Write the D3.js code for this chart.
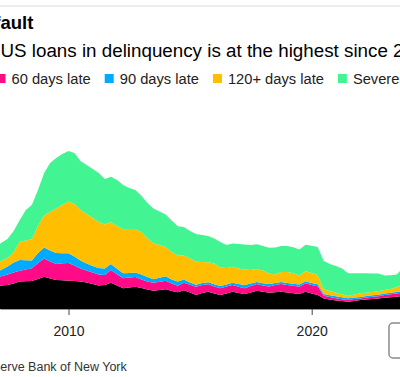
<!DOCTYPE html>
<html>
<head>
<meta charset="utf-8">
<script src="https://cdn.jsdelivr.net/npm/d3@7"></script>
<style>
  body { margin: 0; background: #fff; overflow: hidden; }
  svg { display: block; font-family: "Liberation Sans", Arial, sans-serif; }
</style>
</head>
<body>
<svg width="400" height="377"></svg>
<script>
// quarterly balances by delinquency status ($bn), 2006Q4 .. 2023Q4
const quarters = [];
for (let y = 2006, q = 4; y < 2024; q === 4 ? (y++, q = 1) : q++) {
	quarters.push(`${y}Q${q}`);
}

const late30 = [209,219,223,237,256,258,260,279,300,284,270,267,263,260,256,246,233,219,223,245,
	219,193,200,207,195,181,170,177,183,167,155,175,153,130,149,161,144,130,144,161,
	149,140,153,170,160,152,156,161,153,146,140,161,144,130,98,88,79,74,68,74,
	84,88,93,98,105,110,114,121,125];
const late60 = [79,86,98,102,100,110,118,149,169,158,149,158,165,144,121,112,107,102,93,118,
	104,93,93,90,79,74,74,77,79,70,61,69,72,77,74,69,65,62,65,62,
	58,53,60,62,59,58,67,72,70,70,68,78,79,81,25,23,21,17,16,19,
	14,19,21,21,25,28,30,33,35];
const late90 = [47,59,74,93,100,86,73,93,102,102,102,94,90,84,74,65,60,60,60,56,
	51,47,42,42,48,42,32,37,43,37,39,31,21,19,19,19,21,21,20,20,
	26,31,23,19,21,23,19,19,19,19,19,19,19,19,17,17,18,18,16,14,
	14,14,14,14,14,14,14,14,16];
const late120 = [84,84,79,98,169,183,197,251,298,358,414,448,482,488,470,460,446,428,409,391,
	398,409,409,405,393,363,335,304,272,256,246,223,223,214,195,186,194,172,152,149,
	144,144,126,121,118,98,79,93,102,98,84,93,93,86,42,39,33,28,21,28,
	34,31,30,31,33,34,47,56,60];
const severe = [158,167,177,195,203,284,319,335,395,456,470,474,470,474,456,456,456,456,423,419,
	428,412,381,363,339,326,324,312,302,293,268,265,256,258,251,245,231,237,214,217,
	228,233,233,231,228,239,251,242,242,242,242,246,253,260,265,251,248,240,211,197,
	186,180,173,165,135,128,116,158,170];

const seriesKeys = ['late30', 'late60', 'late90', 'late120', 'severe'];
const seriesNames = ['30 days late', '60 days late', '90 days late', '120+ days late', 'Severely derogatory'];
const seriesColors = ['#000000', '#ff0a87', '#00aaff', '#ffbe00', '#42f592'];
const xTicks = [2010, 2020];

const title = 'Households Are Sliding Toward Default';
const subtitle = 'Share of US loans in delinquency is at the highest since 2020';
const source = 'Source: Federal Reserve Bank of New York';

const svg = d3.select('svg');
const width = +svg.attr('width');
const height = +svg.attr('height');

const baseY = 309;

const data = quarters.map((q, i) => {
	const yr = +q.slice(0, 4), qn = +q.slice(5);
	return {
		date: new Date(yr, qn * 3, 0),
		late30: late30[i], late60: late60[i], late90: late90[i],
		late120: late120[i], severe: severe[i]
	};
});

// chart is cropped: 2010 sits at x=68.5, 2020 at x=311.7
const xScale = d3.scaleTime()
	.domain([new Date(2010, 0, 1), new Date(2020, 0, 1)])
	.range([68.5, 311.7]);
xScale.domain([xScale.invert(0), xScale.invert(width)]).range([0, width]);

const yScale = d3.scaleLinear()
	.domain([0, 1600])
	.range([baseY, baseY - 1600 / 9.3]);

const stack = d3.stack().keys(seriesKeys);
const layers = stack(data);

const area = d3.area()
	.x(d => xScale(d.data.date))
	.y0(d => yScale(d[0]))
	.y1(d => yScale(d[1]));

// top rule
svg.append('rect')
	.attr('x', 0).attr('y', 5)
	.attr('width', width).attr('height', 2)
	.attr('fill', '#ececec');

const placeFrom = (sel, prefix, x) => {
	const w = sel.node().getSubStringLength(0, prefix.length);
	sel.attr('x', x - w);
};

const titleText = svg.append('text')
	.attr('y', 29)
	.attr('font-size', 18.5)
	.attr('font-weight', 'bold')
	.attr('fill', '#000')
	.text(title);
placeFrom(titleText, title.slice(0, title.indexOf('ault')), 0.5);

const subText = svg.append('text')
	.attr('y', 57)
	.attr('font-size', 18.8)
	.attr('fill', '#000')
	.text(subtitle);
placeFrom(subText, subtitle.slice(0, subtitle.indexOf('US')), 0.5);

// legend
const legend = svg.append('g');
let lx = 0;
const items = seriesNames.map((name, i) => {
	const g = legend.append('g');
	g.append('rect').attr('width', 9).attr('height', 9).attr('fill', seriesColors[i]);
	const t = g.append('text')
		.attr('x', 15).attr('y', 9.5)
		.attr('font-size', 14.7)
		.attr('fill', '#222')
		.text(name);
	const w = t.node().getComputedTextLength();
	g.attr('transform', `translate(${lx}, 0)`);
	const pos = lx;
	lx += 15 + w + 14;
	return pos;
});
legend.attr('transform', `translate(${-3.5 - items[1]}, 74)`);

// areas
svg.append('g').selectAll('path')
	.data(layers)
	.enter().append('path')
		.attr('d', area)
		.attr('fill', (d, i) => seriesColors[i]);

// x axis
const xAxis = d3.axisBottom(xScale)
	.tickValues(xTicks.map(y => new Date(y, 0, 1)))
	.tickFormat(d3.timeFormat('%Y'))
	.tickSize(6)
	.tickSizeOuter(0);

const axisG = svg.append('g')
	.attr('transform', `translate(0, ${baseY})`)
	.call(xAxis);
axisG.select('.domain').attr('stroke', '#999').attr('stroke-width', 1);
axisG.selectAll('.tick line').attr('stroke', '#444');
axisG.selectAll('.tick text')
	.attr('font-family', '"Liberation Sans", Arial, sans-serif')
	.attr('font-size', 14)
	.attr('fill', '#222')
	.attr('dy', '1.25em');

const srcText = svg.append('text')
	.attr('y', 371)
	.attr('font-size', 12.5)
	.attr('fill', '#333')
	.text(source);
placeFrom(srcText, source.slice(0, source.indexOf('erve')), 0.3);

// logo box in the corner
svg.append('rect')
	.attr('x', 389).attr('y', 323)
	.attr('width', 30).attr('height', 35)
	.attr('rx', 4)
	.attr('fill', 'none')
	.attr('stroke', '#8a8a8a')
	.attr('stroke-width', 1.5);
</script>
</body>
</html>
